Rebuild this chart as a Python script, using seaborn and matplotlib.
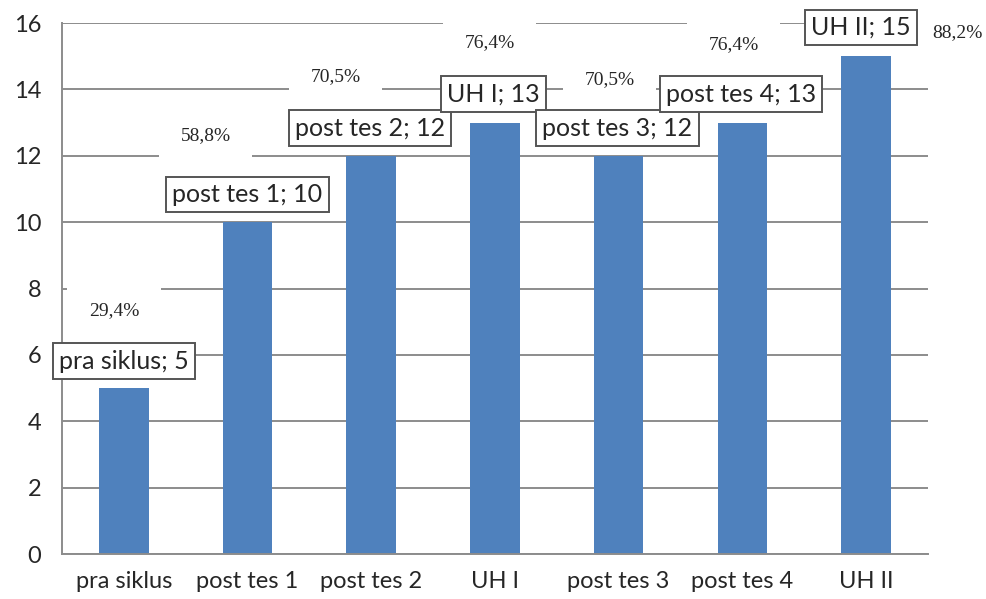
import numpy as np
import pandas as pd
import matplotlib
matplotlib.use('Agg')
import matplotlib.pyplot as plt
import seaborn as sns

# data
categories = ['pra siklus', 'post tes 1', 'post tes 2', 'UH I', 'post tes 3', 'post tes 4', 'UH II']
values = [5, 10, 12, 13, 12, 13, 15]
percents = ['29,4%', '58,8%', '70,5%', '76,4%', '70,5%', '76,4%', '88,2%']

# label positions (data coords)
box_pos = [(0.0, 5.81), (1.0, 10.84), (1.99, 12.83), (2.99, 13.86), (3.99, 12.83), (4.99, 13.86), (5.96, 15.87)]
pct_pos = [(-0.08, 7.32), (0.66, 12.62), (1.71, 14.4), (2.96, 15.42), (3.93, 14.28), (4.93, 15.36), (6.74, 15.72)]

df = pd.DataFrame({'cat': categories, 'val': values})

sns.set_style('white')
plt.rcParams['font.family'] = ['Lato', 'DejaVu Sans']

fig = plt.figure(figsize=(9.87, 5.99), dpi=100)
ax = fig.add_axes([0.0628, 0.0751, 0.8772, 0.8865])

grid_c = '#8c8c8c'
sns.barplot(data=df, x='cat', y='val', color='#4F81BD', width=0.4, saturation=1,
            linewidth=0, ax=ax, zorder=2)

ax.set_xlim(-0.5, 6.5)
ax.set_ylim(0, 16)
ax.set_yticks(np.arange(0, 17, 2))
ax.yaxis.grid(True, color=grid_c, linewidth=1.4, zorder=0)
ax.set_axisbelow(True)
ax.set_xlabel('')
ax.set_ylabel('')

for s in ['top', 'right']:
    ax.spines[s].set_visible(False)
for s in ['left', 'bottom']:
    ax.spines[s].set_color(grid_c)
    ax.spines[s].set_linewidth(1.4)

ax.set_xticks(range(len(categories)))
ax.set_xticklabels(categories)
ax.set_xticks(np.arange(-0.5, 7, 1), minor=True)
ax.tick_params(axis='x', which='major', length=0, labelsize=17, pad=12)
ax.tick_params(axis='x', which='minor', length=8, width=1.4, color=grid_c, direction='out')
ax.tick_params(axis='y', length=7, width=1.4, color=grid_c, direction='out', labelsize=17, pad=8)

# percentage texts with white background hiding gridlines
for (x, y), t in zip(pct_pos, percents):
    ax.text(x, y, t, ha='center', va='center', fontsize=14, family='Liberation Serif',
            bbox=dict(boxstyle='square,pad=1.1', fc='white', ec='none'),
            zorder=3, clip_on=False)

# value label boxes
for (x, y), c, v in zip(box_pos, categories, values):
    ax.text(x, y, f'{c}; {v}', ha='center', va='center', fontsize=18,
            bbox=dict(boxstyle='square,pad=0.25', fc='white', ec='#555555', lw=1.4),
            zorder=4, clip_on=False)

fig.savefig('out.png', dpi=100)
